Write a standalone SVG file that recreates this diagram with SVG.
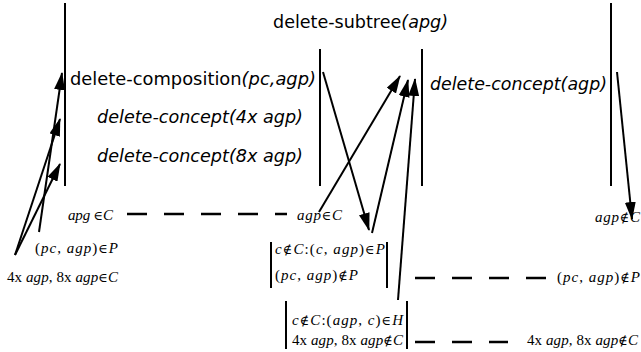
<svg xmlns="http://www.w3.org/2000/svg" width="641" height="352" viewBox="0 0 641 352">
<defs>
<marker id="ah" viewBox="0 0 18 11" refX="17" refY="5.5" markerWidth="18" markerHeight="11" markerUnits="userSpaceOnUse" orient="auto">
<path d="M0,0 L18,5.5 L0,11 z" fill="#000"/>
</marker>
<style>
.bar{stroke:#000;stroke-width:2;fill:none}
.arr{stroke:#000;stroke-width:2;fill:none;marker-end:url(#ah)}
.dash{stroke:#000;stroke-width:2.5;fill:none;stroke-dasharray:20 17}
.sans{font-family:"DejaVu Sans",sans-serif;font-size:17px;fill:#000}
.math{font-family:"Liberation Serif","Times New Roman",serif;font-size:15px;fill:#000}
.i{font-style:italic}
.s{font-family:"DejaVu Serif",serif;font-size:13px;font-weight:normal}
</style>
</defs>
<rect width="641" height="352" fill="#fff"/>

<g id="lifelines">
<line class="bar" x1="65" y1="3" x2="65" y2="186"/>
<line class="bar" x1="320" y1="49" x2="320" y2="186"/>
<line class="bar" x1="422" y1="49" x2="422" y2="186"/>
<line class="bar" x1="611" y1="3" x2="611" y2="186"/>
</g>

<g id="op-subtree">
<text class="sans" x="273" y="28" textLength="175" lengthAdjust="spacingAndGlyphs">delete-subtree<tspan class="i">(apg)</tspan></text>
</g>
<g id="op-composition">
<text class="sans" x="70" y="85" textLength="246" lengthAdjust="spacingAndGlyphs">delete-composition<tspan class="i">(pc,agp)</tspan></text>
</g>
<g id="op-concept-4x">
<text class="sans i" x="97" y="123" textLength="206" lengthAdjust="spacingAndGlyphs">delete-concept(4x agp)</text>
</g>
<g id="op-concept-8x">
<text class="sans i" x="97" y="162" textLength="206" lengthAdjust="spacingAndGlyphs">delete-concept(8x agp)</text>
</g>
<g id="op-concept">
<text class="sans i" x="430" y="90" textLength="177" lengthAdjust="spacingAndGlyphs">delete-concept(agp)</text>
</g>

<g id="state-apg-in-C">
<text class="math" x="68" y="220" textLength="45" lengthAdjust="spacing"><tspan class="i">apg</tspan> <tspan class="s">∈</tspan><tspan class="i">C</tspan></text>
</g>
<g id="state-pc-agp-in-P">
<text class="math" x="35" y="253" textLength="83" lengthAdjust="spacing">(<tspan class="i">pc</tspan>, <tspan class="i">agp</tspan>)<tspan class="s">∈</tspan><tspan class="i">P</tspan></text>
</g>
<g id="state-4x-8x-in-C">
<text class="math" x="7" y="282" textLength="111" lengthAdjust="spacing">4x <tspan class="i">agp</tspan>, 8x <tspan class="i">agp</tspan><tspan class="s">∈</tspan><tspan class="i">C</tspan></text>
</g>
<g id="state-agp-in-C">
<text class="math" x="297" y="220" textLength="45" lengthAdjust="spacing"><tspan class="i">agp</tspan><tspan class="s">∈</tspan><tspan class="i">C</tspan></text>
</g>
<g id="state-box1">
<line class="bar" x1="271" y1="242" x2="271" y2="288"/>
<line class="bar" x1="387" y1="242" x2="387" y2="288"/>
<text class="math" x="275" y="254" textLength="110" lengthAdjust="spacing"><tspan class="i">c</tspan><tspan class="s">∉</tspan><tspan class="i">C</tspan>:(<tspan class="i">c</tspan>, <tspan class="i">agp</tspan>)<tspan class="s">∈</tspan><tspan class="i">P</tspan></text>
<text class="math" x="275" y="280" textLength="83" lengthAdjust="spacing">(<tspan class="i">pc</tspan>, <tspan class="i">agp</tspan>)<tspan class="s">∉</tspan><tspan class="i">P</tspan></text>
</g>
<g id="state-box2">
<line class="bar" x1="286" y1="301" x2="286" y2="349"/>
<line class="bar" x1="407" y1="301" x2="407" y2="349"/>
<text class="math" x="292" y="325" textLength="111" lengthAdjust="spacing"><tspan class="i">c</tspan><tspan class="s">∉</tspan><tspan class="i">C</tspan>:(<tspan class="i">agp</tspan>, <tspan class="i">c</tspan>)<tspan class="s">∈</tspan><tspan class="i">H</tspan></text>
<text class="math" x="292" y="345" textLength="111" lengthAdjust="spacing">4x <tspan class="i">agp</tspan>, 8x <tspan class="i">agp</tspan><tspan class="s">∉</tspan><tspan class="i">C</tspan></text>
</g>
<g id="state-agp-notin-C">
<text class="math" x="595" y="222" textLength="45" lengthAdjust="spacing"><tspan class="i">agp</tspan><tspan class="s">∉</tspan><tspan class="i">C</tspan></text>
</g>
<g id="state-pc-agp-notin-P">
<text class="math" x="557" y="282" textLength="83" lengthAdjust="spacing">(<tspan class="i">pc</tspan>, <tspan class="i">agp</tspan>)<tspan class="s">∉</tspan><tspan class="i">P</tspan></text>
</g>
<g id="state-4x-8x-notin-C">
<text class="math" x="527" y="345" textLength="111" lengthAdjust="spacing">4x <tspan class="i">agp</tspan>, 8x <tspan class="i">agp</tspan><tspan class="s">∉</tspan><tspan class="i">C</tspan></text>
</g>

<g id="connectors">
<line class="arr" x1="39" y1="232" x2="62" y2="73"/>
<line class="arr" x1="15" y1="255" x2="60" y2="119"/>
<line class="arr" x1="15" y1="255" x2="60" y2="164"/>
<line class="arr" x1="323" y1="72" x2="369" y2="230"/>
<line class="arr" x1="319" y1="212" x2="400" y2="76"/>
<line class="arr" x1="372" y1="233" x2="408" y2="80"/>
<line class="arr" x1="398" y1="300" x2="415" y2="79"/>
<line class="arr" x1="617" y1="72" x2="632" y2="219"/>
<line class="dash" x1="127" y1="214" x2="287" y2="214"/>
<line class="dash" x1="415" y1="278" x2="547" y2="278"/>
<line class="dash" x1="415" y1="342" x2="508" y2="342"/>
</g>
</svg>
